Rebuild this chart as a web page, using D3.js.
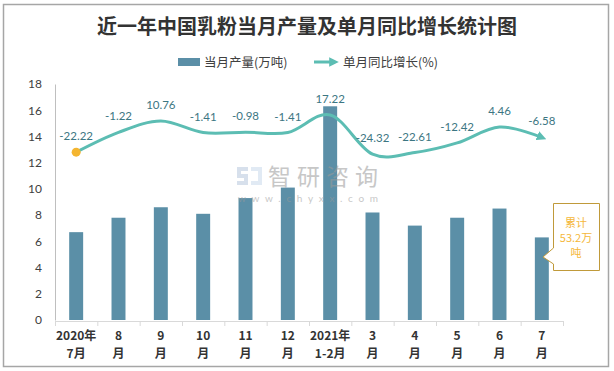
<!DOCTYPE html>
<html>
<head>
<meta charset="utf-8">
<script src="https://cdn.jsdelivr.net/npm/d3@7"></script>
<style>
  body { margin: 0; background: #fff; }
  svg { display: block; font-family: "Noto Sans CJK SC", "Lato", sans-serif; }
</style>
</head>
<body>
<svg id="svg" width="614" height="371"></svg>
<script>
// data
const tickTop = ['2020年', '8', '9', '10', '11', '12', '2021年', '3', '4', '5', '6', '7']
const tickBottom = ['7月', '月', '月', '月', '月', '月', '1-2月', '月', '月', '月', '月', '月']
const months = tickTop.map((d, i) => d + tickBottom[i])
const production = [6.7, 7.8, 8.6, 8.1, 9.3, 10.1, 16.3, 8.2, 7.2, 7.8, 8.5, 6.3]
const growth = [-22.22, -1.22, 10.76, -1.41, -0.98, -1.41, 17.22, -24.32, -22.61, -12.42, 4.46, -6.58]
const yTicks = [0, 2, 4, 6, 8, 10, 12, 14, 16, 18]

const barColor = '#5b8fa7'
const lineColor = '#5cbdb3'
const labelColor = '#3c7682'
const textColor = '#404040'

const svg = d3.select('#svg')
const margin = { top: 84, right: 51, bottom: 50, left: 55 }

// frame
svg.append('rect')
    .attr('x', 3.5).attr('y', 4.5)
    .attr('width', 605).attr('height', 362)
    .attr('fill', 'none')
    .attr('stroke', '#a6a6a6')
    .attr('stroke-width', 1.5)

// title
svg.append('text')
    .attr('x', 307).attr('y', 34)
    .attr('text-anchor', 'middle')
    .attr('font-size', 20)
    .attr('font-weight', 'bold')
    .attr('fill', '#333')
    .text('近一年中国乳粉当月产量及单月同比增长统计图')

// scales
const x = d3.scaleBand()
    .domain(months)
    .range([margin.left, 563])
    .paddingInner(0.67)
    .paddingOuter(0.335)

const xEdges = d3.scaleLinear().domain([0, months.length]).range([margin.left, 563])

const y = d3.scaleLinear().domain([0, 18]).range([320, margin.top])
// hidden secondary axis for the growth line
const y2 = d3.scaleLinear().domain([-200, 50]).range([320, margin.top])

// axes
svg.append('g')
    .attr('transform', 'translate(0,321)')
    .call(d3.axisBottom(xEdges).ticks(months.length).tickFormat('').tickSize(5).tickSizeOuter(5))
    .call(g => g.selectAll('line, path').attr('stroke', '#d9d9d9'))

const xLabels = svg.append('g')
    .attr('transform', 'translate(0,321)')
    .call(d3.axisBottom(x).tickSize(0).tickFormat(''))
xLabels.select('.domain').remove()
xLabels.selectAll('.tick text').each(function(d, i) {
    const t = d3.select(this)
        .attr('font-size', 12)
        .attr('font-weight', 'bold')
        .attr('fill', '#333')
        .attr('font-family', '"Noto Sans CJK SC", sans-serif')
        .attr('y', 0).attr('dy', null)
    t.append('tspan').attr('x', 0).attr('y', 19).text(tickTop[i])
    t.append('tspan').attr('x', 0).attr('y', 37).text(tickBottom[i])
})

const yAxis = svg.append('g')
    .attr('transform', `translate(${margin.left},0)`)
    .call(d3.axisLeft(y).tickValues(yTicks).tickSize(0).tickPadding(13).tickSizeOuter(0))
yAxis.select('.domain').attr('stroke', '#bfbfbf')
yAxis.selectAll('text')
    .attr('font-size', 12)
    .attr('font-family', 'Lato, sans-serif')
    .attr('fill', textColor)

// bars
svg.append('g').selectAll('rect')
    .data(production)
    .join('rect')
    .attr('x', (d, i) => x(months[i]))
    .attr('width', x.bandwidth())
    .attr('y', d => y(d))
    .attr('height', d => y(0) - y(d))
    .attr('fill', barColor)

// watermark
const wm = svg.append('g').attr('opacity', 0.55)
wm.append('path')
    .attr('d', 'M237,167h11v4h-7v3h7v11h-11v-4h7v-3h-7z')
    .attr('fill', '#b8c8de')
wm.append('path')
    .attr('d', 'M251,167h11v18h-11v-4h7v-10h-7z')
    .attr('fill', '#c9d9ec')
wm.append('text')
    .attr('x', 268).attr('y', 185)
    .attr('font-size', 23)
    .attr('fill', '#9a9a9a')
    .attr('font-family', '"Noto Sans CJK SC", sans-serif')
    .attr('textLength', 110)
    .text('智研咨询')
wm.append('text')
    .attr('x', 238).attr('y', 202)
    .attr('font-size', 10)
    .attr('fill', '#9a9a9a')
    .attr('font-family', 'Lato, sans-serif')
    .attr('textLength', 140)
    .text('www.chyxx.com')

// growth line
svg.append('defs').append('marker')
    .attr('id', 'arrow')
    .attr('viewBox', '0 0 10 10')
    .attr('refX', 5).attr('refY', 5)
    .attr('markerWidth', 3.2).attr('markerHeight', 3.2)
    .attr('orient', 'auto')
    .append('path')
    .attr('d', 'M0,0L10,5L0,10z')
    .attr('fill', lineColor)

const cx = i => x(months[i]) + x.bandwidth() / 2

const line = d3.line()
    .x((d, i) => cx(i))
    .y(d => y2(d))
    .curve(d3.curveCardinal.tension(0))

svg.append('path')
    .datum(growth)
    .attr('d', line)
    .attr('fill', 'none')
    .attr('stroke', lineColor)
    .attr('stroke-width', 3)
    .attr('marker-end', 'url(#arrow)')

svg.append('circle')
    .attr('cx', cx(0))
    .attr('cy', y2(growth[0]))
    .attr('r', 4.5)
    .attr('fill', '#f4b530')

svg.append('g').selectAll('text')
    .data(growth)
    .join('text')
    .attr('x', (d, i) => cx(i))
    .attr('y', d => y2(d) - 12)
    .attr('text-anchor', 'middle')
    .attr('font-size', 11.5)
    .attr('font-family', 'Lato, sans-serif')
    .attr('fill', labelColor)
    .text(d => d.toFixed(2))

// legend
const legend = svg.append('g')
legend.append('rect')
    .attr('x', 178).attr('y', 58)
    .attr('width', 22).attr('height', 8)
    .attr('fill', barColor)
legend.append('text')
    .attr('x', 204).attr('y', 67)
    .attr('font-size', 12.5)
    .attr('fill', textColor)
    .text('当月产量(万吨)')
legend.append('line')
    .attr('x1', 314).attr('x2', 334)
    .attr('y1', 62).attr('y2', 62)
    .attr('stroke', lineColor)
    .attr('stroke-width', 3)
    .attr('marker-end', 'url(#arrow)')
legend.append('text')
    .attr('x', 343).attr('y', 67)
    .attr('font-size', 12.5)
    .attr('fill', textColor)
    .text('单月同比增长(%)')

// callout for cumulative output
const callout = svg.append('g')
callout.append('path')
    .attr('d', 'M553.5,203.5H599.5V270.5H553.5V264L543,257L553.5,248Z')
    .attr('fill', '#fff')
    .attr('stroke', '#c09a3a')
    .attr('stroke-width', 1)
const calloutLines = ['累计', '53.2万', '吨']
callout.selectAll('text')
    .data(calloutLines)
    .join('text')
    .attr('x', 576)
    .attr('y', (d, i) => 227 + i * 15)
    .attr('text-anchor', 'middle')
    .attr('font-size', 11)
    .attr('fill', '#f5b73a')
    .text(d => d)
</script>
</body>
</html>
